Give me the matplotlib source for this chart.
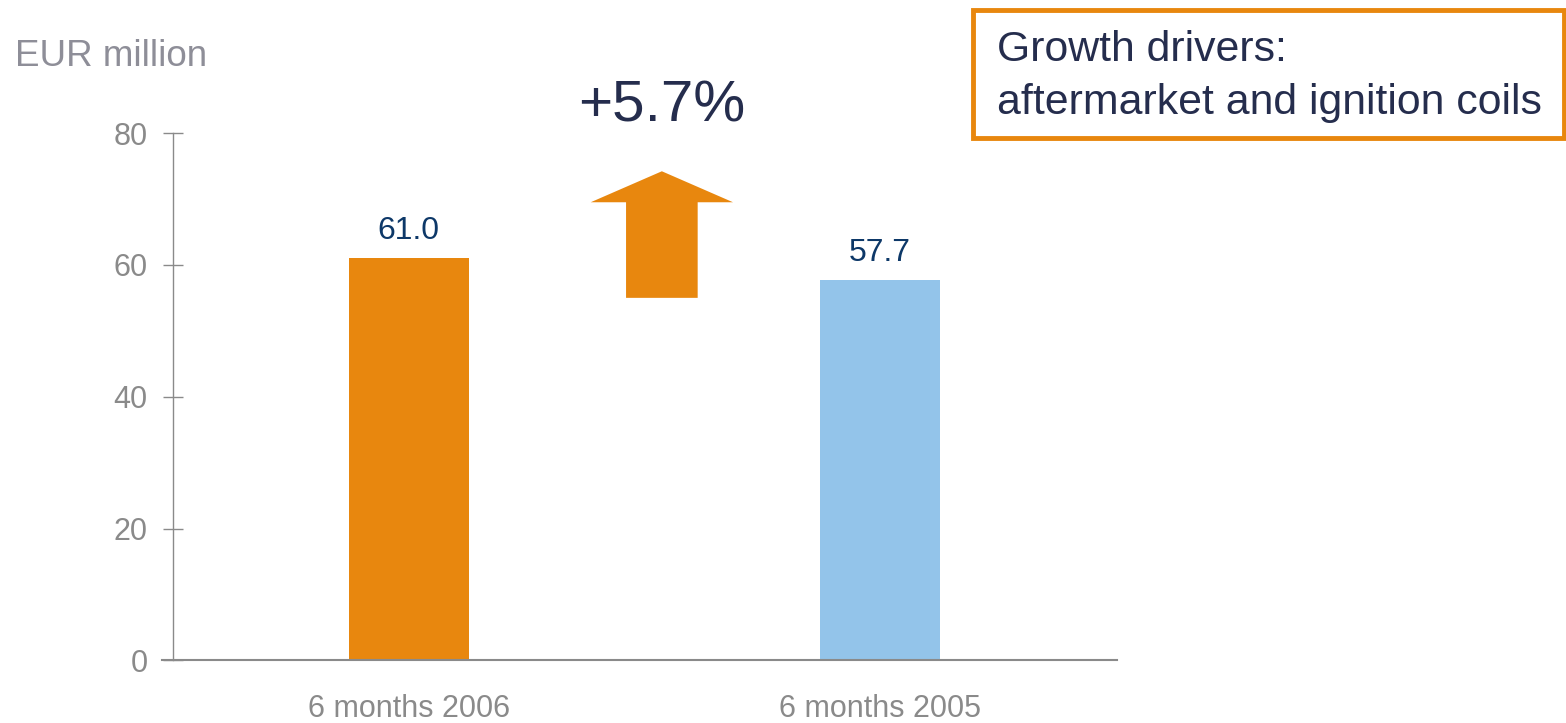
import matplotlib.pyplot as plt
from matplotlib.patches import Polygon, Rectangle

plt.rcParams['font.family'] = ['Liberation Sans', 'DejaVu Sans']

categories = ['6 months 2006', '6 months 2005']
values = [61.0, 57.7]
bar_colors = ['#E8870E', '#93C4EA']
growth = '+5.7%'
yticks = [0, 20, 40, 60, 80]

gray = '#8a8a8a'
navy = '#252d4d'
label_blue = '#0d3868'
orange = '#E8870E'

fig = plt.figure(figsize=(15.66, 7.23), dpi=100)
ax = fig.add_axes([0.1034, 0.0865, 0.6099, 0.7295])

x = range(len(categories))
ax.bar(x, values, width=0.255, color=bar_colors, zorder=2)
for xi, v in zip(x, values):
    ax.text(xi, v + 1.8, f'{v:.1f}', ha='center', va='bottom', fontsize=23, color=label_blue)

ax.set_xlim(-0.524, 1.503)
ax.set_ylim(0, 80)
ax.set_yticks(yticks)
ax.set_xticks(list(x))
ax.set_xticklabels(categories)

for s in ['top', 'right']:
    ax.spines[s].set_visible(False)
ax.spines['left'].set_position(('data', -0.5))
ax.spines['left'].set_color(gray)
ax.spines['bottom'].set_color(gray)
ax.spines['left'].set_linewidth(1)
ax.spines['bottom'].set_linewidth(1.5)

ax.tick_params(axis='y', direction='inout', length=15, width=1, color=gray,
               labelsize=22, labelcolor=gray, pad=11)
ax.tick_params(axis='x', length=0, labelsize=22, labelcolor=gray, pad=24)

# growth arrow between the bars
cx = 0.537
base, neck, tip = 55.0, 69.5, 74.2
arrow = Polygon([(cx - 0.076, base), (cx + 0.076, base), (cx + 0.076, neck),
                 (cx + 0.151, neck), (cx, tip), (cx - 0.151, neck),
                 (cx - 0.076, neck)], closed=True, facecolor=orange,
                edgecolor='none', zorder=3)
ax.add_patch(arrow)

fig.text(578 / 1566, 1 - 107 / 723, growth, fontsize=42, color=navy, ha='left', va='center')
fig.text(15 / 1566, 1 - 57 / 723, 'EUR million', fontsize=26.5, color='#8e8e98', ha='left', va='center')

# text box on the right
box = Rectangle((973 / 1566, 1 - 138 / 723), 591 / 1566, 128 / 723,
                transform=fig.transFigure, fill=False, edgecolor=orange, linewidth=3.5)
fig.patches.append(box)
fig.text(997 / 1566, 1 - 50 / 723, 'Growth drivers:', fontsize=30.8, color=navy, ha='left', va='center')
fig.text(997 / 1566, 1 - 103 / 723, 'aftermarket and ignition coils', fontsize=30.8, color=navy,
         ha='left', va='center')

fig.savefig('out.png', dpi=100)
